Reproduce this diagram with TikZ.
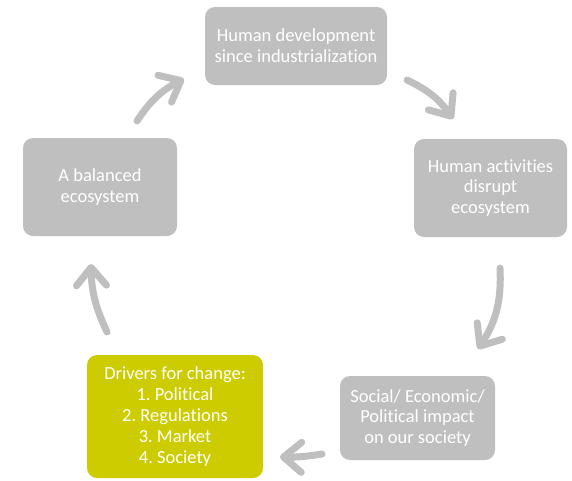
\documentclass[tikz,border=0pt]{standalone}
\usepackage{fontspec}
\setmainfont{Carlito}[Ligatures=NoCommon]
\usetikzlibrary{arrows.meta}
\frenchspacing

\definecolor{boxgray}{RGB}{191,191,191}
\definecolor{drivegreen}{RGB}{204,204,0}

\begin{document}
\begin{tikzpicture}[x=1pt, y=-1pt, font=\fontsize{18.5}{20.8}\selectfont]
  \tikzstyle{stage} = [rectangle, rounded corners=10pt, fill=boxgray, text=white, align=center, inner sep=4pt]
  \tikzstyle{driver} = [stage, fill=drivegreen]
  \tikzstyle{cyc} = [draw=boxgray, line width=7pt, line cap=round, -{Straight Barb[length=18pt, width=30pt, round]}]
  \useasboundingbox (0,0) rectangle (572,480);
  % Place nodes
  \node [stage, minimum width=182pt, minimum height=78pt] (human-dev) at (296,46) {Human development\\since industrialization};
  \node [stage, minimum width=153pt, minimum height=98pt] (disrupt) at (490.5,188) {Human activities\\disrupt\\ecosystem};
  \node [stage, minimum width=155pt, minimum height=84pt] (impact) at (417.5,418) {Social/ Economic/\\Political impact\\on our society};
  \node [driver, minimum width=176pt, minimum height=123pt] (drivers) at (175,416.5) {Drivers for change:\\1. Political\\2. Regulations\\3. Market\\4. Society};
  \node [stage, minimum width=154pt, minimum height=98pt] (balanced) at (100,187) {A balanced\\ecosystem};
  % arrow ends
  \coordinate (bal-out) at (137,121);
  \coordinate (dev-in) at (184,79);
  \coordinate (dev-out) at (407,80);
  \coordinate (dis-in) at (453,119);
  \coordinate (dis-out) at (500,268);
  \coordinate (imp-in) at (478,349);
  \coordinate (imp-out) at (322,454);
  \coordinate (drv-in) at (280,457);
  \coordinate (drv-out) at (107,332);
  \coordinate (bal-in) at (91,264);

  \path [cyc] (bal-out) to [bend left=15] (dev-in);
  \path [cyc] (dev-out) to [bend left=15] (dis-in);
  \path [cyc] (dis-out) to [bend left=18] (imp-in);
  \path [cyc] (imp-out) to [bend left=5] (drv-in);
  \path [cyc] (drv-out) to [bend left=12] (bal-in);
\end{tikzpicture}
\end{document}
